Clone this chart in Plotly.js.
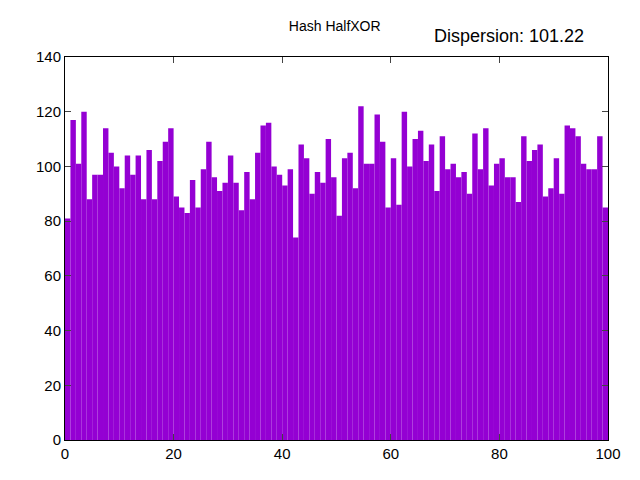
<!DOCTYPE html>
<html><head><script src="https://cdn.plot.ly/plotly-3.0.1.min.js"></script></head>
<body style="margin:0"><div id="c" style="width:640px;height:480px"></div>
<script>
const values = [81,117,101,120,88,97,97,114,105,100,92,104,97,104,88,106,88,102,109,114,
89,85,83,95,85,99,109,96,91,94,104,94,84,98,88,105,115,116,100,97,
93,99,74,108,103,90,98,94,110,96,82,103,105,92,122,101,101,119,109,85,
103,86,120,100,110,113,102,108,91,111,99,101,96,98,90,112,99,114,93,101,
103,96,96,87,111,102,106,108,89,92,103,90,115,114,111,101,99,99,111,85];
const bins = values.map((v,i)=>i+0.5);
const titleText = "Hash HalfXOR";
const dispersionText = "Dispersion: 101.22";
Plotly.newPlot('c',[{type:'bar',x:bins,y:values,width:1,marker:{color:'#9400d3',line:{width:0}}}],{
  width:640,height:480,margin:{l:65,r:32,t:57,b:40},
  paper_bgcolor:'white',plot_bgcolor:'white',showlegend:false,
  font:{family:'Liberation Sans, Arial, sans-serif',size:15,color:'black'},
  title:{text:titleText,x:0.523,xanchor:'center',y:0.945,yanchor:'middle',font:{size:14}},
  annotations:[{text:dispersionText,xref:'paper',yref:'paper',x:0.96,y:1.055,xanchor:'right',yanchor:'middle',showarrow:false,font:{size:18}}],
  xaxis:{range:[0,100],tickvals:[0,20,40,60,80,100],ticks:'inside',ticklen:6,showline:true,mirror:'ticks',linecolor:'black',linewidth:1,showgrid:false,zeroline:false},
  yaxis:{range:[0,140],dtick:20,ticks:'inside',ticklen:6,showline:true,mirror:'ticks',linecolor:'black',linewidth:1,showgrid:false,zeroline:false}
},{displayModeBar:false});
</script></body></html>
